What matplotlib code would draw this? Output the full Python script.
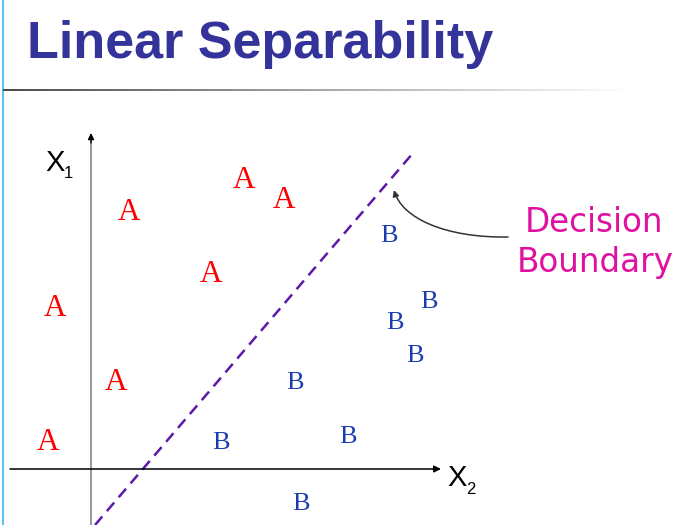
import matplotlib
matplotlib.use("Agg")
import matplotlib.pyplot as plt
import numpy as np
from matplotlib.transforms import Affine2D
from matplotlib.patches import FancyArrowPatch
from matplotlib.path import Path

# ---- data (x2 horizontal, x1 vertical; origin at the axes crossing) ----
a_x2 = [38, 153, 193, 120, -36, 25, -43]
a_x1 = [256, 288, 269, 195, 161, 87, 27]
b_x2 = [298, 338, 304, 324, 204, 130, 257, 210]
b_x1 = [233, 167, 146, 113, 86, 26, 32, -35]
boundary_x2 = [4, 322]
boundary_x1 = [-56, 316]
class_labels = ["A", "B"]
title = "Linear Separability"
note_lines = ["Decision", "Boundary"]

W, H = 678, 525
fig = plt.figure(figsize=(W / 100, H / 100), dpi=100)
ax = fig.add_axes([0, 0, 1, 1])
ax.set_xlim(-91, W - 91)
ax.set_ylim(-56, H - 56)
ax.axis("off")

# pixel transform (top-left origin) for slide decorations
pix = Affine2D().scale(1, -1).translate(0, H)

# left light-blue slide border
ax.plot([3, 3], [0, H], color="#5cc4f2", lw=1.5, transform=pix, solid_capstyle="butt")

# title
fig.text(27, 58, title, transform=pix, fontsize=37.5, fontweight="bold",
         family="Liberation Sans", color="#333399", ha="left", va="baseline")

# gradient rule under title
gax = fig.add_axes([3 / W, (H - 91.5) / H, 627 / W, 3 / H])
grad = np.linspace(0.3, 1.0, 256)
gimg = np.dstack([grad, grad, grad]).repeat(2, axis=0)
gax.imshow(gimg, aspect="auto", interpolation="bilinear")
gax.axis("off")

# axes lines
ax.plot([0, 0], [-56, 330], color="#999999", lw=1.4, solid_capstyle="butt")
ax.annotate("", xy=(0, 336), xytext=(0, 326),
            arrowprops=dict(arrowstyle="-|>", color="black", lw=1.0, mutation_scale=9,
                            shrinkA=0, shrinkB=0))
ax.annotate("", xy=(350, 0), xytext=(-81, 0),
            arrowprops=dict(arrowstyle="-|>", color="black", lw=1.1, mutation_scale=10,
                            shrinkA=0, shrinkB=0))

# axis labels
ax.text(45, 171, "X", transform=pix, fontsize=21, family="Liberation Sans", va="baseline")
ax.text(64, 178, "1", transform=pix, fontsize=12, family="Liberation Sans", va="baseline")
ax.text(447, 486, "X", transform=pix, fontsize=21, family="Liberation Sans", va="baseline")
ax.text(466, 494, "2", transform=pix, fontsize=12, family="Liberation Sans", va="baseline")

# decision boundary
ax.plot(boundary_x2, boundary_x1, color="#5b1aa8", lw=1.8, dashes=(4.5, 2.8))

# class points
for x, y in zip(a_x2, a_x1):
    ax.text(x, y, class_labels[0], color="#ff0000", fontsize=22.5, family="Liberation Serif",
            ha="center", va="center")
for x, y in zip(b_x2, b_x1):
    ax.text(x, y, class_labels[1], color="#1a3cb0", fontsize=19, family="Liberation Serif",
            ha="center", va="center")

# annotation text
ax.text(594, 232, note_lines[0], transform=pix, fontsize=23.5, family="DejaVu Sans",
        color="#e010a0", ha="center", va="baseline")
ax.text(595, 272, note_lines[1], transform=pix, fontsize=23.5, family="DejaVu Sans",
        color="#e010a0", ha="center", va="baseline")

# curved pointer
verts = [(508, 237), (445, 238), (402, 218), (394, 190)]
path = Path(verts, [Path.MOVETO, Path.CURVE4, Path.CURVE4, Path.CURVE4])
arr = FancyArrowPatch(path=path, arrowstyle="-|>", mutation_scale=9, color="#333333",
                      lw=1.1, transform=pix)
ax.add_patch(arr)

fig.savefig("out.png", dpi=100)
